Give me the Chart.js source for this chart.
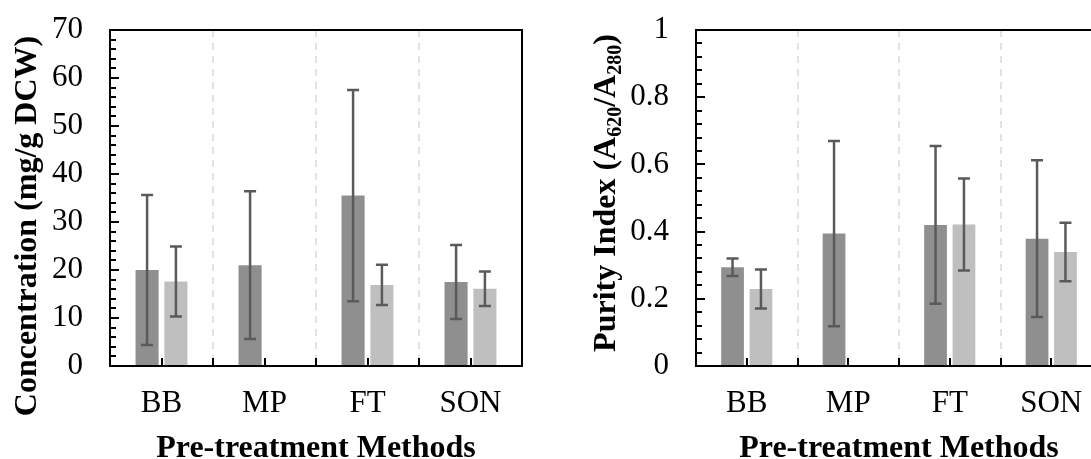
<!DOCTYPE html>
<html>
<head>
<meta charset="utf-8">
<script src="https://cdn.jsdelivr.net/npm/chart.js@4.4.1/dist/chart.umd.min.js"></script>
<style>
  html, body { margin: 0; padding: 0; background: #fff; overflow: hidden; width: 1091px; height: 459px; }
  .panel { position: absolute; top: 0; height: 459px; }
  #leftPanel { left: 0; width: 545px; }
  #rightPanel { left: 540px; width: 600px; }
</style>
</head>
<body>
<div class="panel" id="leftPanel"><canvas id="concChart" width="545" height="459"></canvas></div>
<div class="panel" id="rightPanel"><canvas id="purityChart" width="600" height="459"></canvas></div>
<script>
// Data
const methods = ['BB', 'MP', 'FT', 'SON'];

const concDark = [20.0, 21.0, 35.5, 17.5];
const concDarkErr = [15.6, 15.4, 22.0, 7.7];
const concLight = [17.6, null, 16.9, 16.1];
const concLightErr = [7.3, null, 4.2, 3.6];

const purityDark = [0.294, 0.394, 0.420, 0.379];
const purityDarkErr = [0.026, 0.276, 0.235, 0.233];
const purityLight = [0.229, null, 0.421, 0.339];
const purityLightErr = [0.058, null, 0.137, 0.087];

const SERIF = "'Liberation Serif', 'Times New Roman', serif";
const DARK = '#8f8f8f';
const LIGHT = '#bfbfbf';
const ERR = '#5a5a5a';

// Axes frame, dashed separators, error bars and titles
const framePlugin = {
    id: 'frame',
    beforeDatasetsDraw(chart) {
        const { ctx, chartArea: a, scales: { x } } = chart;
        ctx.save();
        ctx.strokeStyle = '#d9d9d9';
        ctx.lineWidth = 1.5;
        ctx.setLineDash([7, 6]);
        for (let i = 1; i < methods.length; i++) {
            const px = Math.round((x.getPixelForTick(i - 1) + x.getPixelForTick(i)) / 2);
            ctx.beginPath();
            ctx.moveTo(px, a.top);
            ctx.lineTo(px, a.bottom);
            ctx.stroke();
        }
        ctx.restore();
    },
    afterDatasetsDraw(chart) {
        const { ctx, scales: { y } } = chart;
        ctx.save();
        ctx.strokeStyle = ERR;
        ctx.lineWidth = 2.5;
        chart.data.datasets.forEach((ds, di) => {
            const meta = chart.getDatasetMeta(di);
            meta.data.forEach((bar, j) => {
                const v = ds.data[j];
                const e = ds.errors[j];
                if (v === null || e === null) return;
                const top = y.getPixelForValue(v + e);
                const bot = y.getPixelForValue(v - e);
                ctx.beginPath();
                ctx.moveTo(bar.x, top);
                ctx.lineTo(bar.x, bot);
                ctx.moveTo(bar.x - 6, top);
                ctx.lineTo(bar.x + 6, top);
                ctx.moveTo(bar.x - 6, bot);
                ctx.lineTo(bar.x + 6, bot);
                ctx.stroke();
            });
        });
        ctx.restore();
    },
    afterDraw(chart, args, opts) {
        const { ctx, chartArea: a, scales: { x, y } } = chart;
        ctx.save();
        ctx.strokeStyle = '#000';
        ctx.lineWidth = 2;
        ctx.strokeRect(a.left, a.top, a.right - a.left, a.bottom - a.top);

        // y ticks, pointing inside
        for (let v = y.min; v <= y.max + 1e-9; v += opts.minor) {
            const q = v / opts.major;
            const isMajor = Math.abs(q - Math.round(q)) < 1e-6;
            const py = Math.round(y.getPixelForValue(v));
            ctx.beginPath();
            ctx.moveTo(a.left, py);
            ctx.lineTo(a.left + (isMajor ? 9 : 6), py);
            ctx.stroke();
        }
        // x ticks at category centres and boundaries
        const xs = [];
        for (let i = 0; i < methods.length; i++) {
            xs.push(x.getPixelForTick(i));
            if (i > 0) xs.push((x.getPixelForTick(i - 1) + x.getPixelForTick(i)) / 2);
        }
        xs.forEach(px => {
            ctx.beginPath();
            ctx.moveTo(Math.round(px), a.bottom);
            ctx.lineTo(Math.round(px), a.bottom - 8);
            ctx.stroke();
        });

        // x title
        ctx.fillStyle = '#000';
        ctx.font = `bold 32px ${SERIF}`;
        ctx.textAlign = 'center';
        ctx.textBaseline = 'alphabetic';
        ctx.fillText(opts.xTitle, (a.left + a.right) / 2, 457);

        // y title, rotated, with subscripts
        const t = opts.yTitle;
        ctx.translate(t.x, t.y);
        ctx.rotate(-Math.PI / 2);
        ctx.textAlign = 'left';
        let total = 0;
        t.parts.forEach(p => {
            ctx.font = p.sub ? `bold 20px ${SERIF}` : `bold 32px ${SERIF}`;
            total += ctx.measureText(p.text).width;
        });
        let cx = -total / 2;
        t.parts.forEach(p => {
            ctx.font = p.sub ? `bold 20px ${SERIF}` : `bold 32px ${SERIF}`;
            ctx.fillText(p.text, cx, p.sub ? 6 : 0);
            cx += ctx.measureText(p.text).width;
        });
        ctx.restore();
    }
};

function buildChart(canvasId, dark, darkErr, light, lightErr, yMax, yStep, minor, axisWidth, rightPad, frame, fmt) {
    const ctx = document.getElementById(canvasId).getContext('2d');
    return new Chart(ctx, {
        type: 'bar',
        data: {
            labels: methods,
            datasets: [
                { data: dark, errors: darkErr, backgroundColor: DARK, categoryPercentage: 0.56, barPercentage: 0.8 },
                { data: light, errors: lightErr, backgroundColor: LIGHT, categoryPercentage: 0.56, barPercentage: 0.8 }
            ]
        },
        options: {
            responsive: false,
            animation: false,
            layout: { padding: { top: 30, right: rightPad, bottom: 0, left: 0 } },
            plugins: {
                legend: { display: false },
                tooltip: { enabled: false },
                frame: frame
            },
            scales: {
                x: {
                    grid: { display: false, drawTicks: false },
                    border: { display: false },
                    ticks: { color: '#000', font: { family: SERIF, size: 31 }, padding: 19 },
                    afterFit(scale) {
                        scale.height = 93;
                        scale.paddingLeft = 0;
                        scale.paddingRight = 0;
                    }
                },
                y: {
                    min: 0,
                    max: yMax,
                    grid: { display: false, drawTicks: false },
                    border: { display: false },
                    ticks: {
                        stepSize: yStep,
                        color: '#000',
                        font: { family: SERIF, size: 31 },
                        padding: 27,
                        callback: fmt
                    },
                    afterFit(scale) {
                        scale.width = axisWidth;
                        scale.paddingTop = 0;
                        scale.paddingBottom = 0;
                    }
                }
            }
        },
        plugins: [framePlugin]
    });
}

document.addEventListener('DOMContentLoaded', () => {
    buildChart('concChart', concDark, concDarkErr, concLight, concLightErr, 70, 10, 2, 110, 23, {
        major: 10, minor: 2,
        xTitle: 'Pre-treatment Methods',
        yTitle: { x: 36, y: 226, parts: [{ text: 'Concentration (mg/g DCW)' }] }
    }, v => String(v));

    buildChart('purityChart', purityDark, purityDarkErr, purityLight, purityLightErr, 1, 0.2, 0.04, 156, 38, {
        major: 0.2, minor: 0.04,
        xTitle: 'Pre-treatment Methods',
        yTitle: {
            x: 75, y: 193,
            parts: [
                { text: 'Purity Index (A' }, { text: '620', sub: true },
                { text: '/A' }, { text: '280', sub: true }, { text: ')' }
            ]
        }
    }, v => String(Math.round(v * 10) / 10));
});
</script>
</body>
</html>
